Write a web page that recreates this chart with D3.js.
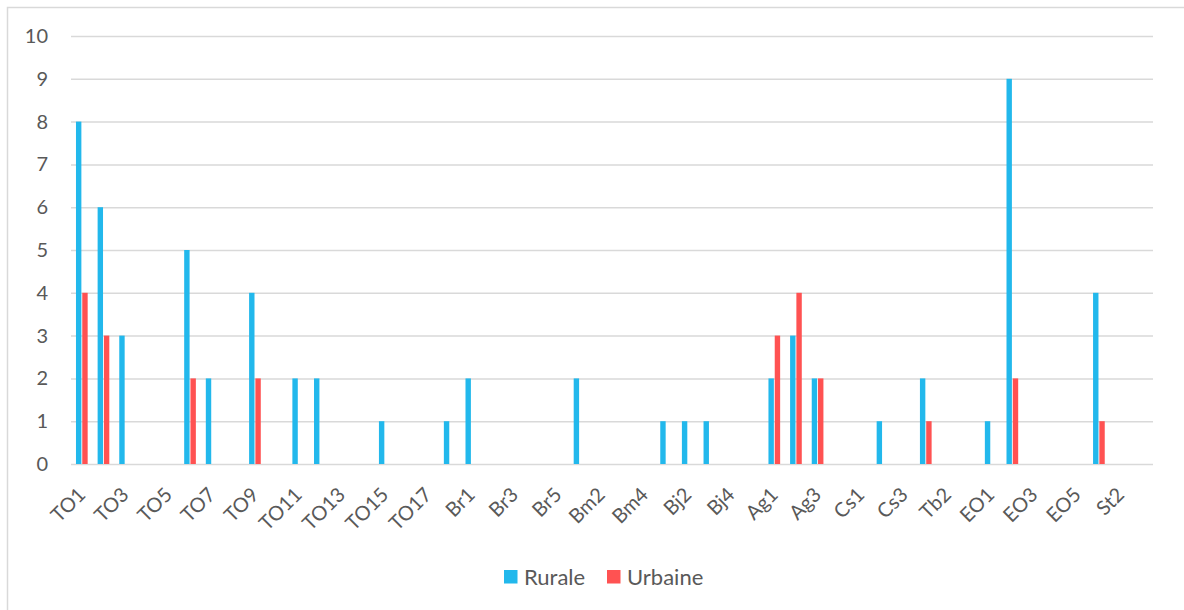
<!DOCTYPE html>
<html>
<head>
<meta charset="utf-8">
<script src="https://cdn.jsdelivr.net/npm/d3@7"></script>
<style>
  html, body { margin: 0; padding: 0; background: #fff; }
  svg { display: block; font-family: Lato, "Open Sans", sans-serif; }
</style>
</head>
<body>
<svg id="chart" width="1184" height="610"></svg>
<script>
// Site codes along the category axis
const categories = [
  "TO1","TO2","TO3","TO4","TO5","TO6","TO7","TO8","TO9","TO10",
  "TO11","TO12","TO13","TO14","TO15","TO16","TO17","TO18",
  "Br1","Br2","Br3","Br4","Br5",
  "Bm1","Bm2","Bm3","Bm4",
  "Bj1","Bj2","Bj3","Bj4","Bj5",
  "Ag1","Ag2","Ag3","Ag4",
  "Cs1","Cs2","Cs3",
  "Tb1","Tb2","Tb3",
  "EO1","EO2","EO3","EO4","EO5",
  "St1","St2","St3"
];

// Counts per site
const rurale = [
  8,6,3,0,0,5,2,0,4,0,
  2,2,0,0,1,0,0,1,
  2,0,0,0,0,
  2,0,0,0,
  1,1,1,0,0,
  2,3,2,0,
  0,1,0,
  2,0,0,
  1,9,0,0,0,
  4,0,0
];
const urbaine = [
  4,3,0,0,0,2,0,0,2,0,
  0,0,0,0,0,0,0,0,
  0,0,0,0,0,
  0,0,0,0,
  0,0,0,0,0,
  3,4,2,0,
  0,0,0,
  1,0,0,
  0,2,0,0,0,
  1,0,0
];

const seriesNames = ["Rurale", "Urbaine"];
const seriesColors = ["#22B8EC", "#FF5252"];
const yTicks = [0,1,2,3,4,5,6,7,8,9,10];

const svg = d3.select("#chart");
const W = 1184, H = 610;
const plot = { left: 71, right: 1153, top: 36, bottom: 464 };
const textColor = "#595959";
const gridColor = "#D9D9D9";
const fontFamily = "Lato, 'Open Sans', sans-serif";

// Outer frame
svg.append("rect")
  .attr("x", 7.5).attr("y", 7.5)
  .attr("width", W).attr("height", H)
  .attr("fill", "none")
  .attr("stroke", gridColor)
  .attr("stroke-width", 1.5);

const x = d3.scaleBand()
  .domain(categories)
  .range([plot.left, plot.right])
  .paddingInner(0.46)
  .paddingOuter(0.23);

const xSub = d3.scaleBand()
  .domain(seriesNames)
  .range([0, x.bandwidth()])
  .paddingInner(0.14);

const y = d3.scaleLinear()
  .domain([0, 10])
  .range([plot.bottom, plot.top]);

// Horizontal gridlines and value labels
const yAxis = d3.axisLeft(y)
  .tickValues(yTicks)
  .tickSize(-(plot.right - plot.left))
  .tickPadding(23)
  .tickFormat(d3.format("d"));

const gy = svg.append("g")
  .attr("transform", `translate(${plot.left},0)`)
  .call(yAxis)
  .attr("font-family", fontFamily);
gy.select(".domain").remove();
gy.selectAll(".tick line")
  .attr("stroke", gridColor)
  .attr("stroke-width", 1.5);
gy.selectAll(".tick text")
  .attr("fill", textColor)
  .attr("font-size", 20);

// Bars
const rows = categories.map((c, i) => ({ cat: c, values: [rurale[i], urbaine[i]] }));
const groups = svg.append("g")
  .selectAll("g")
  .data(rows)
  .join("g")
  .attr("transform", d => `translate(${x(d.cat)},0)`);

groups.selectAll("rect")
  .data(d => d.values.map((v, k) => ({ name: seriesNames[k], value: v, k })))
  .join("rect")
  .filter(d => d.value > 0)
  .attr("x", d => xSub(d.name))
  .attr("width", xSub.bandwidth())
  .attr("y", d => y(d.value))
  .attr("height", d => y(0) - y(d.value))
  .attr("fill", d => seriesColors[d.k]);

// Category labels, every other site, rotated
const xAxis = d3.axisBottom(x)
  .tickValues(categories.filter((c, i) => i % 2 === 0))
  .tickSize(0)
  .tickPadding(0);

const gx = svg.append("g")
  .attr("transform", `translate(0,${plot.bottom})`)
  .call(xAxis)
  .attr("font-family", fontFamily);
gx.select(".domain").remove();
gx.selectAll(".tick text")
  .attr("fill", textColor)
  .attr("font-size", 20)
  .attr("text-anchor", "end")
  .attr("dy", "0.35em")
  .attr("transform", "translate(0,27) rotate(-45)");

// Legend
const legend = svg.append("g").attr("transform", "translate(504,570)");
const legendX = [0, 103];
seriesNames.forEach((name, k) => {
  const g = legend.append("g").attr("transform", `translate(${legendX[k]},0)`);
  g.append("rect")
    .attr("width", 13.5).attr("height", 13.5)
    .attr("fill", seriesColors[k]);
  g.append("text")
    .attr("x", 20).attr("y", 7)
    .attr("dy", "0.35em")
    .attr("fill", textColor)
    .attr("font-size", 22)
    .text(name);
});
</script>
</body>
</html>
